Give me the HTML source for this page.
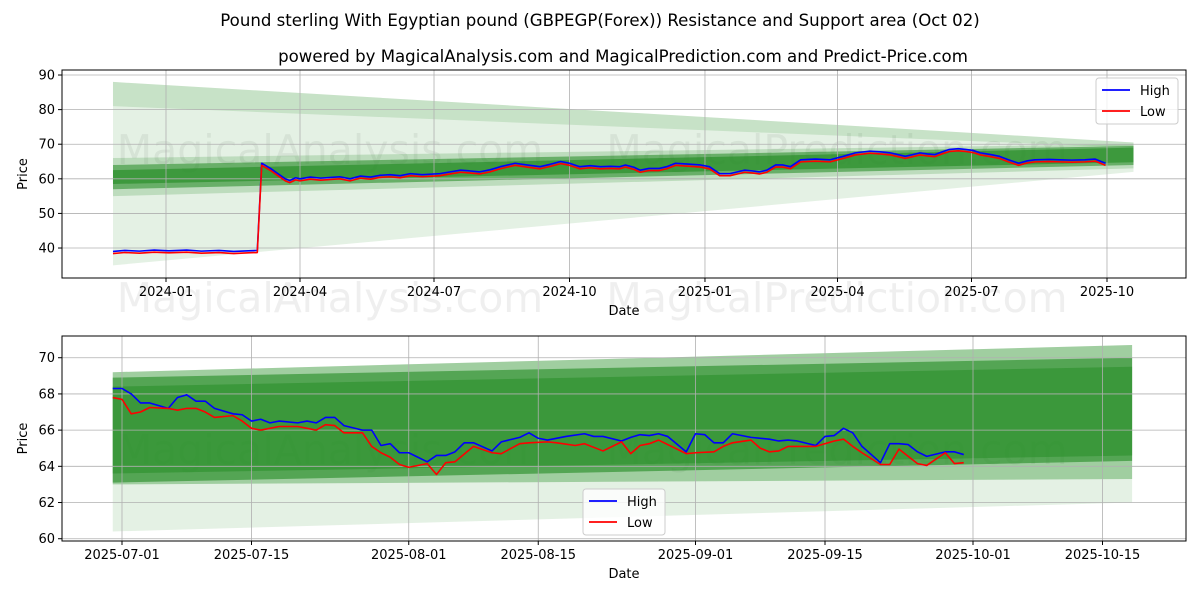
<!DOCTYPE html>
<html><head><meta charset="utf-8"><style>
body{margin:0;background:#fff;}
svg{display:block;font-family:"DejaVu Sans","Liberation Sans",sans-serif;}
</style></head><body>
<svg id="c" width="1200" height="600" viewBox="0 0 1200 600"></svg>
<script>
// ---------- data ----------
const topTickLabels = ["2024-01","2024-04","2024-07","2024-10","2025-01","2025-04","2025-07","2025-10"];
const topTickDays = [0,91,182,274,366,456,547,639];
const topYTicks = [40,50,60,70,80,90];
const topDays = [-36,-28,-18,-8,2,14,24,36,46,56,62,65,71,76,81,84,88,91,98,105,112,118,125,132,139,145,152,159,166,174,186,193,200,206,213,220,227,237,245,254,261,268,274,281,288,295,302,308,312,318,322,328,335,340,346,353,363,369,376,383,388,393,398,403,408,414,419,424,431,441,451,460,468,478,485,492,502,507,512,517,522,527,532,538,543,548,553,560,566,572,579,585,590,600,607,615,624,631,638];
const topHigh = [39,39.3,39.1,39.4,39.2,39.4,39.1,39.3,39,39.2,39.3,64.5,63,61.5,60,59.5,60.3,60,60.5,60.2,60.4,60.6,60,60.8,60.5,61,61.2,60.9,61.5,61.2,61.5,62,62.5,62.3,62,62.6,63.5,64.5,64,63.5,64.2,65,64.5,63.5,63.8,63.5,63.6,63.5,64,63.3,62.5,63,63,63.5,64.5,64.3,64,63.5,61.5,61.5,62,62.5,62.3,62,62.5,64,64,63.5,65.5,65.7,65.5,66.5,67.5,68,67.8,67.5,66.5,67,67.5,67.2,67,67.8,68.5,68.7,68.5,68.2,67.5,67,66.5,65.5,64.5,65.2,65.5,65.6,65.5,65.4,65.5,65.7,64.5];
const topLow = topHigh.map(v=>v-0.6);
const topBands = [ // [startLow,startHigh,endLow,endHigh,alpha]
 [35,88,62,70.5,0.12],[81,88,69,70.5,0.15],[55,66,63,70,0.2],[57,64,64,69.5,0.55],[58.5,62.5,64.8,69,0.6]];
const botTickLabels = ["2025-07-01","2025-07-15","2025-08-01","2025-08-15","2025-09-01","2025-09-15","2025-10-01","2025-10-15"];
const botTickDays = [0,14,31,45,62,76,92,106];
const botYTicks = [60,62,64,66,68,70];
const highDays = [-1,0,1,2,3,5,6,7,8,9,10,12,13,14,15,16,17,19,20,21,22,23,24,26,27,28,29,30,31,33,34,35,36,37,38,40,41,43,44,45,46,48,50,51,52,54,55,56,57,58,59,61,62,63,64,65,66,68,70,71,72,73,75,76,77,78,79,80,82,83,84,85,86,87,89,90,91];
const highVals = [68.3,68.3,68.0,67.5,67.5,67.2,67.8,67.95,67.6,67.6,67.2,66.9,66.85,66.5,66.6,66.4,66.5,66.4,66.5,66.4,66.7,66.7,66.25,66.0,66.0,65.15,65.25,64.75,64.75,64.25,64.6,64.6,64.8,65.3,65.3,64.85,65.35,65.6,65.85,65.55,65.45,65.65,65.8,65.65,65.65,65.4,65.6,65.75,65.7,65.8,65.65,64.8,65.8,65.75,65.3,65.3,65.8,65.6,65.5,65.4,65.45,65.4,65.15,65.65,65.7,66.1,65.85,65.1,64.2,65.25,65.25,65.2,64.8,64.55,64.8,64.8,64.65];
const lowDays = [-1,0,1,2,3,5,6,7,8,9,10,12,13,14,15,16,17,19,20,21,22,23,24,26,27,28,29,30,31,33,34,35,36,38,40,41,43,44,46,47,49,50,52,54,55,56,57,58,61,62,64,65,66,68,69,70,71,72,75,77,78,79,80,82,83,84,85,86,87,89,90,91];
const lowVals = [67.8,67.7,66.9,67.0,67.25,67.2,67.1,67.2,67.2,67.0,66.7,66.8,66.5,66.1,66.0,66.1,66.2,66.2,66.1,66.0,66.3,66.25,65.85,65.85,65.1,64.75,64.5,64.1,63.95,64.15,63.55,64.2,64.25,65.1,64.75,64.7,65.25,65.3,65.35,65.3,65.15,65.25,64.85,65.35,64.7,65.15,65.25,65.45,64.7,64.75,64.8,65.1,65.3,65.45,65.0,64.8,64.85,65.1,65.1,65.4,65.5,65.1,64.75,64.1,64.1,64.95,64.55,64.15,64.05,64.75,64.15,64.2];
const botBands = [[60.4,69.2,62,70.7,0.12],[63,69.2,63.3,70.7,0.35],[63.1,68.9,64.3,70,0.6],[63.6,68.4,64.6,69.5,0.5]];

// ---------- helpers ----------
const NS="http://www.w3.org/2000/svg", svg=document.getElementById('c');
function mk(tag,attrs,parent){const e=document.createElementNS(NS,tag);for(const k in attrs)e.setAttribute(k,attrs[k]);(parent||svg).appendChild(e);return e;}
function txt(s,x,y,size,anchor,parent,extra){const t=mk('text',Object.assign({x:x,y:y,'font-size':size,'text-anchor':anchor||'middle',fill:'#000'},extra||{}),parent);t.textContent=s;return t;}

function panel(cfg){
 const g=mk('g',{});
 
 
 const X=d=>cfg.x0+(d-cfg.d0)*cfg.pxDay, Y=v=>cfg.yTop+(cfg.vTop-v)*cfg.pxVal;
 cfg.bands.forEach((b,i)=>{
  const p=mk('polygon',{points:`${X(cfg.bandStart)},${Y(b[0])} ${X(cfg.bandStart)},${Y(b[1])} ${X(cfg.bandEnd)},${Y(b[3])} ${X(cfg.bandEnd)},${Y(b[2])}`,fill:'rgb(34,139,34)','fill-opacity':b[4]},g);
  
  
 });
 cfg.xTickDays.forEach((d,i)=>{
  mk('line',{x1:X(d),x2:X(d),y1:cfg.yTop,y2:cfg.yBot,stroke:'#b0b0b0','stroke-width':0.8},g);
  mk('line',{x1:X(d),x2:X(d),y1:cfg.yBot,y2:cfg.yBot+4,stroke:'#000'},g);
  const t=txt(cfg.xTickLabels[i],X(d),cfg.yBot+18,13,'middle',g);
  
  
 });
 cfg.yTicks.forEach(v=>{
  mk('line',{x1:cfg.axL,x2:cfg.axR,y1:Y(v),y2:Y(v),stroke:'#b0b0b0','stroke-width':0.8},g);
  mk('line',{x1:cfg.axL-4,x2:cfg.axL,y1:Y(v),y2:Y(v),stroke:'#000'},g);
  const t=txt(String(v),cfg.axL-7,Y(v)+4.5,13,'end',g);
  
  
 });
 function line(days,vals,color,name){
  const pl=mk('polyline',{points:days.map((d,i)=>X(d)+','+Y(vals[i])).join(' '),fill:'none',stroke:color,'stroke-width':1.6,'stroke-linejoin':'round'},g);
  
  
 }
 line(cfg.hd,cfg.hv,'#0000ff','high-line');
 line(cfg.ld,cfg.lv,'#ff0000','low-line');
 const r=mk('rect',{x:cfg.axL,y:cfg.yTop,width:cfg.axR-cfg.axL,height:cfg.yBot-cfg.yTop,fill:'none',stroke:'#000','stroke-width':1},g);
 
 
 const xl=txt('Date',(cfg.axL+cfg.axR)/2,cfg.yBot+37,13,'middle',g);
 
 
 const cy=(cfg.yTop+cfg.yBot)/2;
 const yl=txt('Price',27,cy,13,'middle',g,{transform:`rotate(-90 27 ${cy})`});
 
 
 const lg=mk('g',{},g);
 
 
 mk('rect',{x:cfg.lx,y:cfg.ly,width:82,height:46,rx:3,fill:'#fff','fill-opacity':0.8,stroke:'#ccc'},lg);
 mk('line',{x1:cfg.lx+6,x2:cfg.lx+34,y1:cfg.ly+12,y2:cfg.ly+12,stroke:'#0000ff','stroke-width':1.8},lg);
 mk('line',{x1:cfg.lx+6,x2:cfg.lx+34,y1:cfg.ly+33,y2:cfg.ly+33,stroke:'#ff0000','stroke-width':1.8},lg);
 const a=txt('High',cfg.lx+44,cfg.ly+17,13,'start',lg);
 
 
 const b=txt('Low',cfg.lx+44,cfg.ly+38,13,'start',lg);
 
 
}

const wm=[[150],[298],[450]];
wm.forEach(w=>{
 const t=txt('MagicalAnalysis.com',330,w[0]+14,41,'middle',null,{fill:'#808080','fill-opacity':0.13});
 
 
 const u=txt('MagicalPrediction.com',837,w[0]+14,41,'middle',null,{fill:'#808080','fill-opacity':0.13});
 
 
});

panel({name:'top-chart',axL:62,axR:1186,yTop:70,yBot:278,x0:166,d0:0,pxDay:1.4726,vTop:91.45,pxVal:3.46,
 bandStart:-36,bandEnd:657,bands:topBands,xTickDays:topTickDays,xTickLabels:topTickLabels,yTicks:topYTicks,
 hd:topDays,hv:topHigh,ld:topDays,lv:topLow,lx:1096,ly:78});
panel({name:'bottom-chart',axL:62,axR:1186,yTop:336,yBot:541,x0:122,d0:0,pxDay:9.25,vTop:71.2,pxVal:18.1,
 bandStart:-1,bandEnd:109.2,bands:botBands,xTickDays:botTickDays,xTickLabels:botTickLabels,yTicks:botYTicks,
 hd:highDays,hv:highVals,ld:lowDays,lv:lowVals,lx:583,ly:489});

const t1=txt('Pound sterling With Egyptian pound (GBPEGP(Forex)) Resistance and Support area (Oct 02)',600,26,16.6,'middle');


const t2=txt('powered by MagicalAnalysis.com and MagicalPrediction.com and Predict-Price.com',623,62,16.6,'middle');


</script>
</body></html>
